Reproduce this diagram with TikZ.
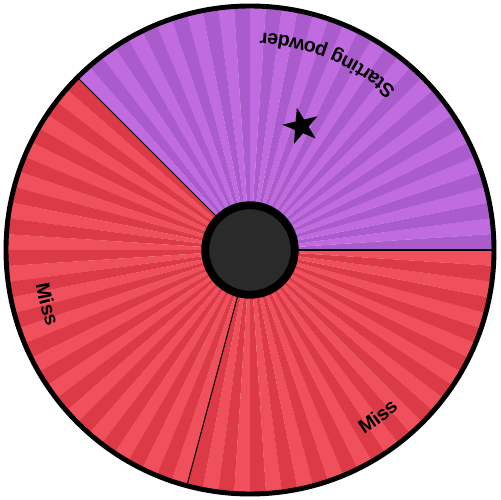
\documentclass[tikz,border=0pt]{standalone}
\usepackage{fontspec}
\setsansfont{Liberation Sans}
\usetikzlibrary{decorations.text}
\definecolor{purpleDark}{RGB}{170,92,204}
\definecolor{purpleLight}{RGB}{192,108,224}
\definecolor{redDark}{RGB}{221,58,72}
\definecolor{redLight}{RGB}{240,79,92}
\definecolor{hubGray}{RGB}{42,42,42}
\newcommand{\wheelfont}{\fontsize{11.2}{13}\selectfont\sffamily\bfseries}
\tikzset{
  wheellabel/.style={decorate, decoration={text along path, text align=center, text={|\wheelfont|#1}}},
  divider/.style={line width=0.6pt}
}

\begin{document}
\begin{tikzpicture}[x=0.02cm,y=0.02cm]
\useasboundingbox (-250,-250) rectangle (250,250);
\coordinate (c) at (0,0);
\foreach \i in {0,...,95}{
  \pgfmathsetmacro{\a}{3.75*\i}
  \ifnum\i<36 \ifodd\i \def\wc{purpleLight}\else \def\wc{purpleDark}\fi
  \else \ifodd\i \def\wc{redLight}\else \def\wc{redDark}\fi\fi
  \fill[fill=\wc] (c) -- (\a:244) arc[start angle=\a, delta angle=3.8, radius=244] -- cycle;
}
\foreach \t in {0,135,255} \draw[divider] (c) -- (\t:244);
\path[wheellabel=Starting powder] (37.5:217) arc[start angle=37.5, end angle=97.5, radius=217];
\path[wheellabel=Miss] (165:217) arc[start angle=165, end angle=225, radius=217];
\path[wheellabel=Miss] (277.5:217) arc[start angle=277.5, end angle=337.5, radius=217];
\fill[shift={(67.5:134)}, rotate=157.5] (90:19) \foreach \k in {1,...,9}{ -- ({90+36*\k}:{ifthenelse(mod(\k,2)==1,7.3,19)}) } -- cycle;
\draw[line width=2.8pt] (c) circle[radius=244];
\node[circle, draw=black, line width=4.5pt, fill=hubGray, minimum size=1.79cm, inner sep=0pt] (hub) at (c) {};
\end{tikzpicture}
\end{document}
